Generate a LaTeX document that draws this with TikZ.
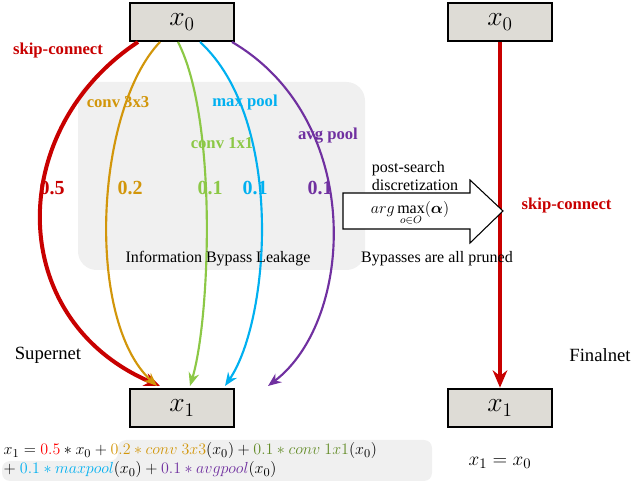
\documentclass[tikz,border=0pt]{standalone}
\usepackage{amsmath,bm}
\usepackage{fontspec}
\setmainfont{Liberation Serif}
\usetikzlibrary{arrows.meta}
\definecolor{cred}{RGB}{200,0,0}
\definecolor{corange}{RGB}{210,150,10}
\definecolor{cgreen}{RGB}{140,200,70}
\definecolor{cgreenD}{RGB}{100,140,40}
\definecolor{cblue}{RGB}{0,176,240}
\definecolor{cpurple}{RGB}{112,48,160}
\definecolor{boxgray}{RGB}{222,220,214}
\definecolor{bggray}{RGB}{240,240,240}
\begin{document}
\begin{tikzpicture}[x=0.75pt,y=-0.75pt,
  xbox/.style={draw=black,line width=1.5pt,fill=boxgray,minimum width=78pt,minimum height=29pt,inner sep=0pt,font=\fontsize{20}{20}\selectfont},
  lbl/.style={font=\bfseries\fontsize{12.5}{14}\selectfont},
  num/.style={font=\bfseries\fontsize{15}{16}\selectfont},
  txt/.style={font=\fontsize{12}{14}\selectfont},
  arr/.style={-{Stealth[length=10pt,width=8pt]},line width=1.6pt}]
\useasboundingbox (0,0) rectangle (640,484);
\fill[bggray,rounded corners=14pt] (78,82) rectangle (365,270);
\fill[bggray,rounded corners=6pt] (118,440) -- (432,440) -- (432,481) -- (2,481) -- (2,461) -- (118,461) -- cycle;
\node[xbox] (a0) at (182,22) {$x_0$};
\node[xbox] (a1) at (182,408) {$x_1$};
\node[xbox] (b0) at (500,22) {$x_0$};
\node[xbox] (b1) at (500,408) {$x_1$};
\draw[arr,cred,line width=3pt,-{Stealth[length=13pt,width=11pt]}] (b0) -- (b1);
\node[lbl,cred,anchor=west] (sk2) at (517,205) {skip-connect};
\coordinate (s1) at (138,42); \coordinate (e1) at (160,386);
\coordinate (s2) at (160,42); \coordinate (e2) at (157,386);
\coordinate (s3) at (178,42); \coordinate (e3) at (190,386);
\coordinate (s4) at (200,42); \coordinate (e4) at (225,386);
\coordinate (s5) at (232,42); \coordinate (e5) at (268,386);
\draw[arr,cred,line width=3pt,-{Stealth[length=12pt,width=10pt]}] (s1) .. controls (5,130) and (5,320) .. (e1);
\draw[arr,corange] (s2) .. controls (95,110) and (85,320) .. (e2);
\draw[arr,cgreen] (s3) .. controls (218,120) and (210,320) .. (e3);
\draw[arr,cblue] (s4) .. controls (285,120) and (270,320) .. (e4);
\draw[arr,cpurple] (s5) .. controls (365,120) and (355,320) .. (e5);
\node[lbl,cred] (l1) at (58,50) {skip-connect};
\node[lbl,corange] (l2) at (118,102) {conv 3x3};
\node[lbl,cblue] (l3) at (245,102) {max pool};
\node[lbl,cgreen] (l4) at (222,143) {conv 1x1};
\node[lbl,cpurple] (l5) at (328,136) {avg pool};
\node[num,cred] (n1) at (52,188) {0.5};
\node[num,corange] (n2) at (130,188) {0.2};
\node[num,cgreen] (n3) at (210,188) {0.1};
\node[num,cblue] (n4) at (255,188) {0.1};
\node[num,cpurple] (n5) at (320,188) {0.1};
\node[txt] (ibl) at (218,259) {Information Bypass Leakage};
\node[txt] (bap) at (437,259) {Bypasses are all pruned};
\node[txt,align=left,inner sep=1pt] (ps) at (415,176) {post-search\\discretization};
\draw[line width=0.8pt,fill=white] (343,193) -- (470,193) -- (470,180) -- (503,211) -- (470,243) -- (470,229) -- (343,229) -- cycle;
\node[txt,inner sep=0pt] (am) at (410,214) {$arg\max\limits_{o\in O}(\bm{\alpha})$};
\node[txt,font=\fontsize{14}{16}\selectfont] (sn) at (48,355) {Supernet};
\node[txt,font=\fontsize{14}{16}\selectfont] (fn) at (600,355) {Finalnet};
\node[anchor=west,inner sep=1pt,font=\fontsize{12.5}{14}\selectfont] (eq1) at (2,451) {$x_1=\textcolor{red}{0.5}*x_0+\textcolor{corange}{0.2*conv\ 3x3}(x_0)+\textcolor{cgreenD}{0.1*conv\ 1x1}(x_0)$};
\node[anchor=west,inner sep=1pt,font=\fontsize{12.5}{14}\selectfont] (eq2) at (2,470) {$+\ \textcolor{cblue}{0.1*maxpool}(x_0)+\textcolor{cpurple}{0.1*avgpool}(x_0)$};
\node[font=\fontsize{15}{16}\selectfont] (eq3) at (500,463) {$x_1=x_0$};
\end{tikzpicture}
\end{document}
